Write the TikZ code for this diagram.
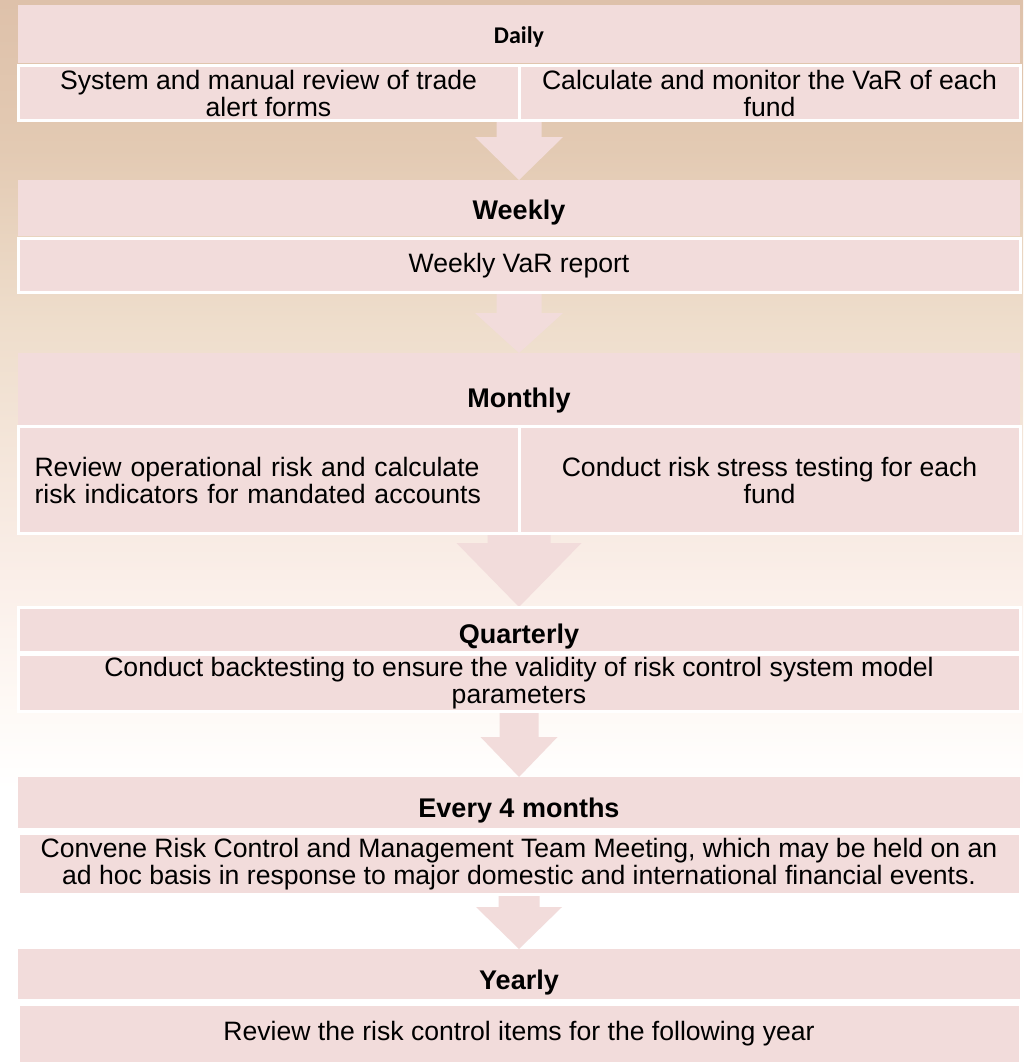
\documentclass[tikz,border=0pt]{standalone}
\usepackage{fontspec}
\setmainfont{Liberation Sans}
\newfontfamily\dayfont{Carlito}
\usetikzlibrary{calc,backgrounds}

\definecolor{boxpink}{HTML}{F2DCDB}
\definecolor{paperA}{HTML}{DEC1AA}
\definecolor{paperB}{HTML}{E3CAB3}
\definecolor{paperC}{HTML}{EEDDCB}
\definecolor{paperD}{HTML}{FAEEE8}
\definecolor{paperE}{HTML}{FEF9F5}

% tan paper fading to white towards the bottom
\pgfdeclareverticalshading{paper}{100bp}{color(0bp)=(white); color(25bp)=(white);
  color(37.8bp)=(white); color(42bp)=(paperE); color(48bp)=(paperD);
  color(60bp)=(paperC); color(68bp)=(paperB); color(75bp)=(paperA); color(100bp)=(paperA)}

% block arrow: from, to, shaft half width, head half width, shaft length
\newcommand{\flowarrow}[5]{%
  \fill[boxpink] let \p1=(#1), \p2=(#2) in
    (\x2-#3,\y1) -- (\x2+#3,\y1) -- (\x2+#3,\y1-#5) -- (\x2+#4,\y1-#5)
    -- (\x2,\y2) -- (\x2-#4,\y1-#5) -- (\x2-#3,\y1-#5) -- cycle;}

\begin{document}
\begin{tikzpicture}[x=1pt,y=-1pt,
    band/.style={fill=boxpink,inner sep=0pt,outer sep=0pt,anchor=north west},
    headbox/.style={band,minimum width=1002pt,text depth=0pt,text height=#1,
      font=\bfseries\fontsize{27}{30}\selectfont},
    itembox/.style={band,draw=white,line width=3pt,align=center,
      font=\fontsize{26.6}{27}\selectfont}]
  \useasboundingbox (0,0) rectangle (1023,1062);
  \begin{scope}[on background layer]
    \fill[shading=paper] (0,0) rectangle (1023,1062);
  \end{scope}

  \node[headbox=18.5pt,font=\dayfont\bfseries\fontsize{24}{28}\selectfont,minimum height=58pt] (daily) at (18,5) {Daily};
  \node[itembox,minimum width=501pt,minimum height=55pt] (dailyA) at (18,65.5) {System and manual review of trade\\alert forms};
  \node[itembox,minimum width=501pt,minimum height=55pt] (dailyB) at (519,65.5) {Calculate and monitor the VaR of each\\fund};

  \node[headbox=23.3pt,minimum height=56pt] (weekly) at (18,180) {Weekly};
  \node[itembox,minimum width=1002pt,minimum height=54pt] (weeklyA) at (18,238.5) {Weekly VaR report};

  \node[headbox=36.3pt,minimum height=72pt] (monthly) at (18,353) {Monthly};
  \node[itembox,minimum width=501pt,minimum height=107pt,text width=468pt,align=left] (monthlyA) at (18,426.5) {Review operational risk and calculate\\risk indicators for mandated accounts};
  \node[itembox,minimum width=501pt,minimum height=107pt] (monthlyB) at (519,426.5) {Conduct risk stress testing for each\\fund};

  \node[headbox=28.3pt,minimum height=45pt,draw=white,line width=3pt] (quarterly) at (18,607) {Quarterly};
  \node[itembox,minimum width=1002pt,minimum height=57pt] (quarterlyA) at (18,654.5) {Conduct backtesting to ensure the validity of risk control system model\\parameters};

  \node[headbox=29.3pt,minimum height=51pt] (every) at (18,777) {Every 4 months};
  \node[itembox,minimum width=1002pt,minimum height=61pt] (everyA) at (18,833.5) {Convene Risk Control and Management Team Meeting, which may be held on an\\ad hoc basis in response to major domestic and international financial events.};

  \node[headbox=31.3pt,minimum height=50pt] (yearly) at (18,949) {Yearly};
  \node[itembox,minimum width=1002pt,minimum height=59pt] (yearlyA) at (18,1004.5) {Review the risk control items for the following year};

  \begin{scope}[on background layer]
    \flowarrow{dailyA.south east}{weekly.north}{22.5pt}{44pt}{16.5pt}
    \flowarrow{weeklyA.south}{monthly.north}{22.5pt}{44pt}{20.5pt}
    \flowarrow{monthlyA.south east}{quarterly.north}{31.5pt}{62.5pt}{9.5pt}
    \flowarrow{quarterlyA.south}{every.north}{19.5pt}{38.5pt}{25.5pt}
    \flowarrow{everyA.south}{yearly.north}{20.5pt}{43pt}{12.5pt}
  \end{scope}
\end{tikzpicture}
\end{document}
